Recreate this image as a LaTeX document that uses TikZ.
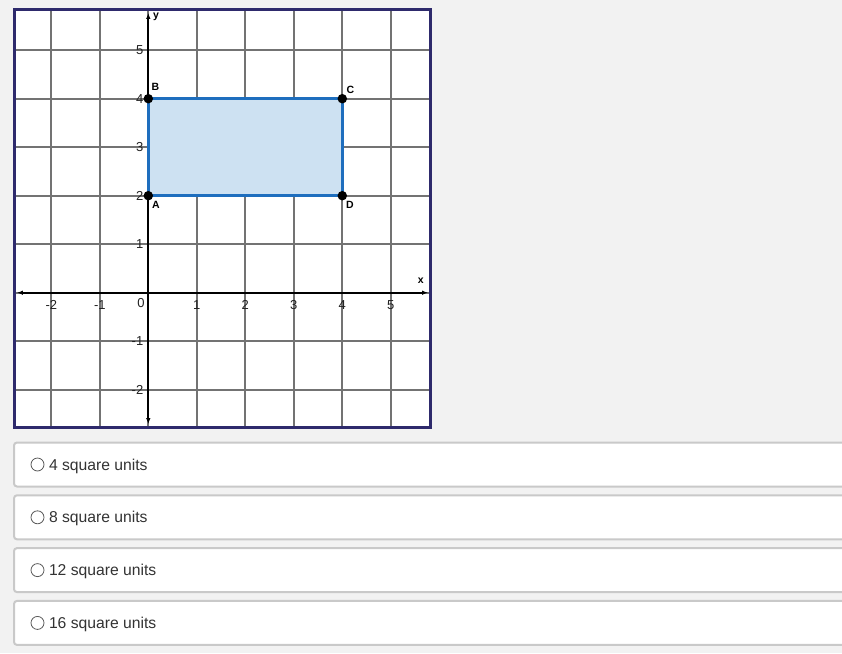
\documentclass[tikz,border=0pt]{standalone}
\usepackage{fontspec}
\setmainfont{Liberation Sans}
\usepackage{tikz}
\usetikzlibrary{positioning,arrows.meta}

\definecolor{pagebg}{HTML}{F2F2F2}
\definecolor{framecol}{HTML}{2E2A6C}
\definecolor{gridcol}{HTML}{737373}
\definecolor{rectfill}{HTML}{CDE1F2}
\definecolor{rectline}{HTML}{1E6EBE}
\definecolor{boxline}{HTML}{C9C9C9}
\definecolor{radioline}{HTML}{5A5A5A}
\definecolor{anstext}{HTML}{333333}
\definecolor{numtext}{HTML}{222222}

\begin{document}
\begin{tikzpicture}[
    x=1pt, y=-1pt,
    >={Latex[length=6pt,width=4.5pt]},
    answer/.style={
		rectangle,
		rounded corners=3pt,
		draw=boxline,
		line width=2pt,
		fill=white,
		minimum width=840pt,
		minimum height=44pt,
		anchor=west
	},
	radio/.style={
		circle,
		draw=radioline,
		line width=0.8pt,
		fill=white,
		minimum size=13pt,
		inner sep=0pt
	},
	choice/.style={
		font=\fontsize{15.7}{18}\selectfont,
		text=anstext,
		inner sep=0pt
	},
	numlabel/.style={
		font=\fontsize{13}{15}\selectfont,
		text=numtext,
		inner sep=0pt
	},
	ptlabel/.style={
		font=\bfseries\fontsize{10.5}{12}\selectfont,
		inner sep=0pt
	},
	ptdot/.style={
		circle,
		fill=black,
		minimum size=9.5pt,
		inner sep=0pt
	}
  ]
  % page background
  \fill[pagebg] (0,0) rectangle (842,653);
  \useasboundingbox (0,0) rectangle (842,653);

  % the coordinate plane
  \begin{scope}[shift={(148.3,292.7)}, x=48.5pt, y=48.5pt]
    \fill[white] (-2.76,-2.78) rectangle (5.82,5.83);
    \draw[gridcol, line width=1.7pt, step=1] (-2.76,-2.78) grid (5.82,5.83);
    \draw[<->, line width=2pt] (-2.71,0) -- (5.77,0);
    \draw[<->, line width=2pt] (0,-2.71) -- (0,5.77);
    \node[ptlabel] (xlab) at (5.62,0.24) {x};
    \node[ptlabel] (ylab) at (0.16,5.69) {y};

    \node[numlabel, anchor=north east] (n0) at (-0.07,-0.12) {0};
    \node[numlabel, anchor=north] (xm2) at (-2,-0.15) {-2};
    \node[numlabel, anchor=north] (xm1) at (-1,-0.15) {-1};
    \node[numlabel, anchor=north] (x1) at (1,-0.15) {1};
    \node[numlabel, anchor=north] (x2) at (2,-0.15) {2};
    \node[numlabel, anchor=north] (x3) at (3,-0.15) {3};
    \node[numlabel, anchor=north] (x4) at (4,-0.15) {4};
    \node[numlabel, anchor=north] (x5) at (5,-0.15) {5};
    \node[numlabel, anchor=east] (ym2) at (-0.1,-2) {-2};
    \node[numlabel, anchor=east] (ym1) at (-0.1,-1) {-1};
    \node[numlabel, anchor=east] (y1) at (-0.1,1) {1};
    \node[numlabel, anchor=east] (y2) at (-0.1,2) {2};
    \node[numlabel, anchor=east] (y3) at (-0.1,3) {3};
    \node[numlabel, anchor=east] (y4) at (-0.1,4) {4};
    \node[numlabel, anchor=east] (y5) at (-0.1,5) {5};

    % the rectangle ABCD
    \coordinate (A) at (0,2);
    \coordinate (B) at (0,4);
    \coordinate (C) at (4,4);
    \coordinate (D) at (4,2);
    \draw[rectline, fill=rectfill, line width=2.8pt] (A) -- (B) -- (C) -- (D) -- cycle;
    \node[ptdot] (ptA) at (A) {};
    \node[ptdot] (ptB) at (B) {};
    \node[ptdot] (ptC) at (C) {};
    \node[ptdot] (ptD) at (D) {};
    \node[ptlabel] (labA) at ([shift={(7.7pt,-9.5pt)}]ptA.center) {A};
    \node[ptlabel] (labB) at ([shift={(7.2pt,11.6pt)}]ptB.center) {B};
    \node[ptlabel] (labC) at ([shift={(8pt,8.8pt)}]ptC.center) {C};
    \node[ptlabel] (labD) at ([shift={(7.5pt,-9.5pt)}]ptD.center) {D};

    \draw[framecol, line width=3pt] (-2.76,-2.78) rectangle (5.82,5.83);
  \end{scope}

  % the answer choices
  \node[answer] (ans1) at (13,464.5) {};
  \node[answer, below=6.8pt of ans1] (ans2) {};
  \node[answer, below=6.8pt of ans2] (ans3) {};
  \node[answer, below=6.8pt of ans3] (ans4) {};

  \node[radio, right=17.6pt of ans1.west] (radio1) {};
  \node[radio, right=17.6pt of ans2.west] (radio2) {};
  \node[radio, right=17.6pt of ans3.west] (radio3) {};
  \node[radio, right=17.6pt of ans4.west] (radio4) {};

  \node[choice, right=4.4pt of radio1, yshift=-1.5pt] (choice1) {4 square units};
  \node[choice, right=4.4pt of radio2, yshift=-1.5pt] (choice2) {8 square units};
  \node[choice, right=4.4pt of radio3, yshift=-1.5pt] (choice3) {12 square units};
  \node[choice, right=4.4pt of radio4, yshift=-1.5pt] (choice4) {16 square units};

\end{tikzpicture}
\end{document}
